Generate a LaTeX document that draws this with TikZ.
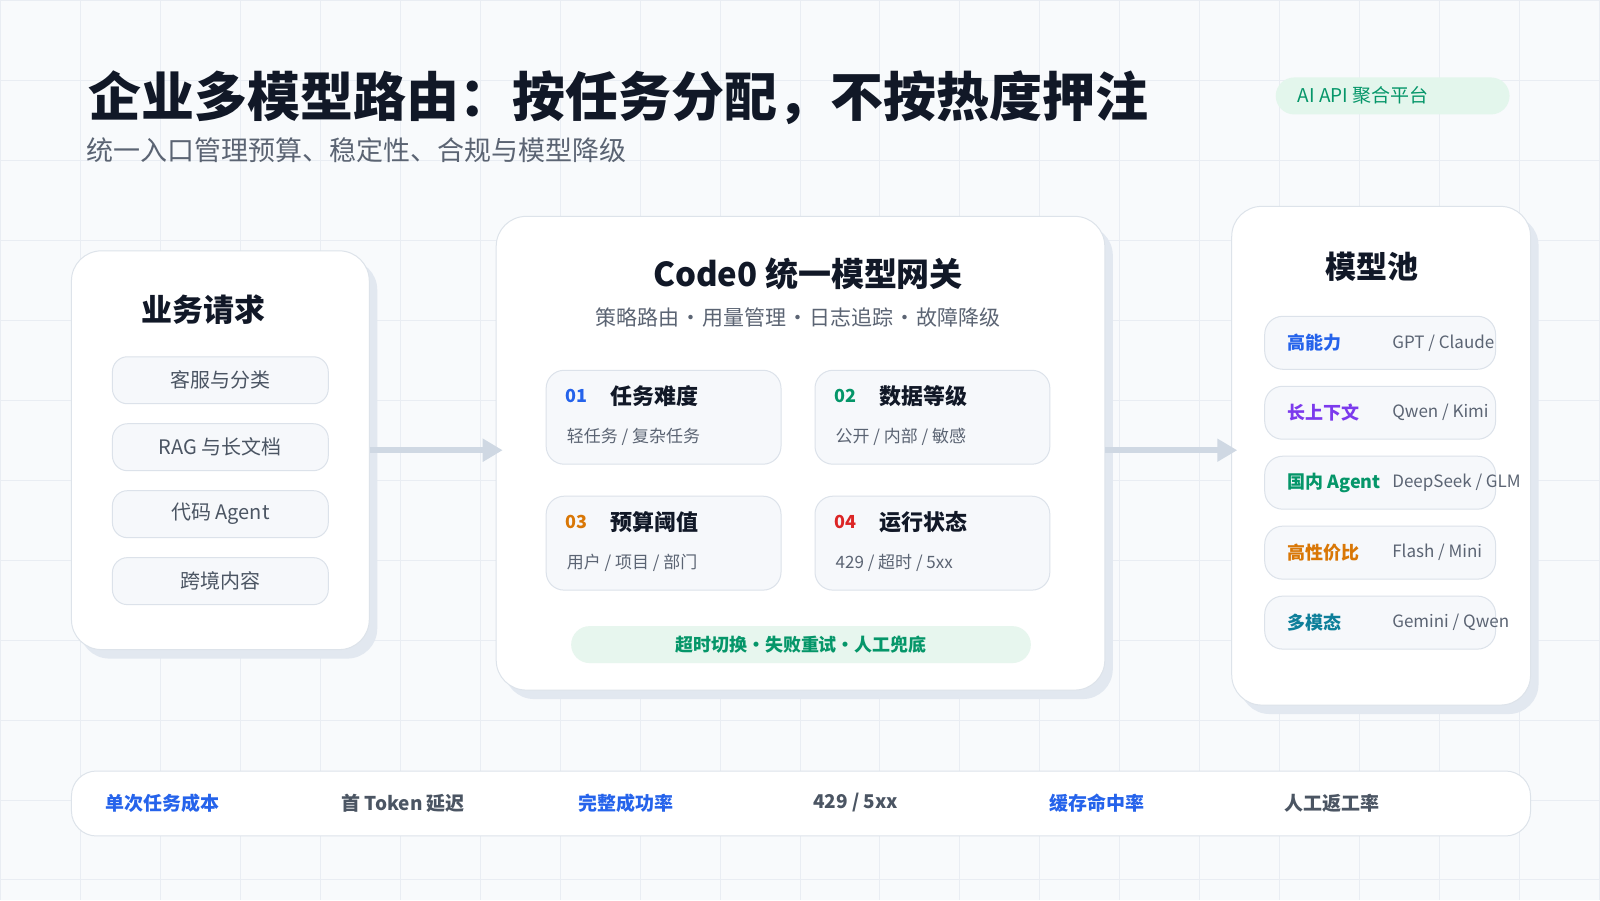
\documentclass[tikz,border=0pt]{standalone}
\usepackage{fontspec}
\setmainfont{Noto Sans CJK SC}
\newfontfamily\heavyfont{Noto Sans CJK SC Black}
\usetikzlibrary{positioning,calc,arrows.meta,shadows}

\definecolor{bgc}{HTML}{F8FAFC}
\definecolor{gridc}{HTML}{E9EDF3}
\definecolor{panelline}{HTML}{DDE3EA}
\definecolor{shadowc}{HTML}{E2E8F0}
\definecolor{itemfill}{HTML}{F6F8FB}
\definecolor{itemline}{HTML}{DCE2EA}
\definecolor{darktext}{HTML}{111827}
\definecolor{graytext}{HTML}{5B6473}
\definecolor{itemtext}{HTML}{4B5563}
\definecolor{arrowc}{HTML}{CFD8E3}
\definecolor{accblue}{HTML}{2563EB}
\definecolor{accgreen}{HTML}{059669}
\definecolor{accorange}{HTML}{D97706}
\definecolor{accred}{HTML}{DC2626}
\definecolor{accpurple}{HTML}{7C3AED}
\definecolor{accteal}{HTML}{0E7F9A}
\definecolor{badgefill}{HTML}{E3F6EC}
\definecolor{bannerfill}{HTML}{E7F6EE}

\tikzset{
  panel/.style={draw=panelline, line width=1pt, fill=white, rounded corners=30pt, inner sep=0pt,
    drop shadow={shadow xshift=8pt, shadow yshift=-9pt, fill=shadowc, opacity=1}},
  reqitem/.style={draw=itemline, line width=1pt, fill=itemfill, rounded corners=15pt,
    minimum width=216pt, minimum height=47pt, inner sep=0pt, text=itemtext,
    font=\fontsize{20}{24}\selectfont},
  card/.style={draw=itemline, line width=1pt, fill=itemfill, rounded corners=18pt,
    minimum width=235pt, minimum height=94pt, inner sep=0pt},
  poolitem/.style={draw=itemline, line width=1pt, fill=itemfill, rounded corners=18pt,
    minimum width=231pt, minimum height=53pt, inner sep=0pt},
  txt/.style={inner sep=0pt, anchor=west},
  cardno/.style={txt, font=\fontsize{18}{22}\selectfont\bfseries},
  cardtitle/.style={txt, text=darktext, font=\fontsize{22}{26}\selectfont\bfseries},
  cardsub/.style={txt, text=graytext, font=\fontsize{17}{20}\selectfont},
  poollabel/.style={txt, font=\fontsize{18}{22}\selectfont\bfseries},
  poolmodel/.style={txt, text=graytext, font=\fontsize{17}{20}\selectfont},
  metric/.style={txt, font=\fontsize{19}{23}\selectfont\bfseries},
  flowarrow/.style={draw=arrowc, line width=6pt, -{Triangle[length=20pt,width=22pt]}}
}

\begin{document}
\begin{tikzpicture}[x=1pt, y=-1pt, node distance=67pt, on grid]
  % background and grid
  \fill[bgc] (0,0) rectangle (1600,900);
  \draw[gridc, line width=1pt] (0,0) grid[step=80pt] (1600,900);
  \useasboundingbox (0,0) rectangle (1600,900);

  % heading
  \node[txt, text=darktext, font=\fontsize{53}{60}\heavyfont] (title) at (88,97)
    {企业多模型路由：按任务分配，不按热度押注};
  \node[txt, text=graytext, font=\fontsize{27}{32}\selectfont] (subtitle) at (86,150)
    {统一入口管理预算、稳定性、合规与模型降级};
  \node[fill=badgefill, rounded corners=18.5pt, minimum width=234pt, minimum height=37pt] (badge) at (1393,95.5) {};
  \node[txt, text=accgreen, font=\fontsize{19}{23}\selectfont] (badgetext) at (1298,95) {AI API 聚合平台};

  % business requests
  \node[panel, minimum width=298pt, minimum height=399pt] (reqpanel) at (220,450) {};
  \node[inner sep=0pt, text=darktext, font=\fontsize{31}{36}\selectfont\bfseries] (reqtitle) at (203,309) {业务请求};
  \node[reqitem] (req1) at (220,380) {客服与分类};
  \node[reqitem] (req2) [below = of req1] {RAG 与长文档};
  \node[reqitem] (req3) [below = of req2] {代码 Agent};
  \node[reqitem] (req4) [below = of req3] {跨境内容};

  % gateway
  \node[panel, minimum width=609pt, minimum height=474pt] (gw) at (800.5,453) {};
  \node[inner sep=0pt, text=darktext, font=\fontsize{33}{38}\selectfont\bfseries] (gwtitle) at (808,274) {Code0 统一模型网关};
  \node[inner sep=0pt, text=graytext, font=\fontsize{21}{25}\selectfont] (gwsub) at (798,317)
    {策略路由\hspace{1pt}·\hspace{1pt}用量管理\hspace{1pt}·\hspace{1pt}日志追踪\hspace{1pt}·\hspace{1pt}故障降级};

  \node[card] (card1) at (663.5,417) {};
  \node[card] (card2) [right = 269pt of card1] {};
  \node[card] (card3) [below = 126pt of card1] {};
  \node[card] (card4) [right = 269pt of card3] {};

  \node[cardno, text=accblue] (no1) at ($(card1.north west)+(20,26)$) {01};
  \node[cardtitle] (ct1) at ($(card1.north west)+(65,26)$) {任务难度};
  \node[cardsub] (cs1) at ($(card1.north west)+(21,67)$) {轻任务 / 复杂任务};
  \node[cardno, text=accgreen] (no2) at ($(card2.north west)+(20,26)$) {02};
  \node[cardtitle] (ct2) at ($(card2.north west)+(65,26)$) {数据等级};
  \node[cardsub] (cs2) at ($(card2.north west)+(21,67)$) {公开 / 内部 / 敏感};
  \node[cardno, text=accorange] (no3) at ($(card3.north west)+(20,26)$) {03};
  \node[cardtitle] (ct3) at ($(card3.north west)+(65,26)$) {预算阈值};
  \node[cardsub] (cs3) at ($(card3.north west)+(21,67)$) {用户 / 项目 / 部门};
  \node[cardno, text=accred] (no4) at ($(card4.north west)+(20,26)$) {04};
  \node[cardtitle] (ct4) at ($(card4.north west)+(65,26)$) {运行状态};
  \node[cardsub] (cs4) at ($(card4.north west)+(21,67)$) {429 / 超时 / 5xx};

  \node[fill=bannerfill, rounded corners=18.5pt, minimum width=460pt, minimum height=37pt,
    text=accgreen, font=\fontsize{18}{22}\selectfont\bfseries] (fallback) at (801,644.5)
    {超时切换•失败重试•人工兜底};

  % model pool
  \node[panel, minimum width=299pt, minimum height=499pt] (pool) at (1381.5,455.5) {};
  \node[inner sep=0pt, text=darktext, font=\fontsize{31}{36}\selectfont\bfseries] (pooltitle) at (1372,266) {模型池};
  \node[poolitem] (pool1) at (1380.5,342.5) {};
  \node[poolitem] (pool2) [below = 70pt of pool1] {};
  \node[poolitem] (pool3) [below = 70pt of pool2] {};
  \node[poolitem] (pool4) [below = 70pt of pool3] {};
  \node[poolitem] (pool5) [below = 70pt of pool4] {};
  \foreach \i/\lab/\col/\mdl in {1/{高能力}/accblue/{GPT / Claude}, 2/{长上下文}/accpurple/{Qwen / Kimi},
      3/{国内 Agent}/accgreen/{DeepSeek / GLM}, 4/{高性价比}/accorange/{Flash / Mini}, 5/{多模态}/accteal/{Gemini / Qwen}} {
    \node[poollabel, text=\col] (lab\i) at ($(pool\i.west)+(23,0)$) {\lab};
    \node[poolmodel] (mdl\i) at ($(pool\i.west)+(128,0)$) {\mdl};
  }

  % flow
  \draw[flowarrow] (reqpanel.east) -- ([xshift=7pt]reqpanel.east -| gw.west);
  \draw[flowarrow] ([yshift=3pt]gw.east) -- ([xshift=6pt,yshift=3pt]gw.east -| pool.west);

  % metrics bar
  \node[draw=panelline, line width=1pt, fill=white, rounded corners=25pt, minimum width=1460pt,
    minimum height=65pt] (metrics) at (801,803.5) {};
  \foreach \x/\t/\c in {105/{单次任务成本}/accblue, 341/{首 Token 延迟}/itemtext, 578/{完整成功率}/accblue,
      813/{429 / 5xx}/itemtext, 1049/{缓存命中率}/accblue, 1285/{人工返工率}/itemtext} {
    \node[metric, text=\c] (m\x) at (\x,803) {\t};
  }
\end{tikzpicture}
\end{document}
